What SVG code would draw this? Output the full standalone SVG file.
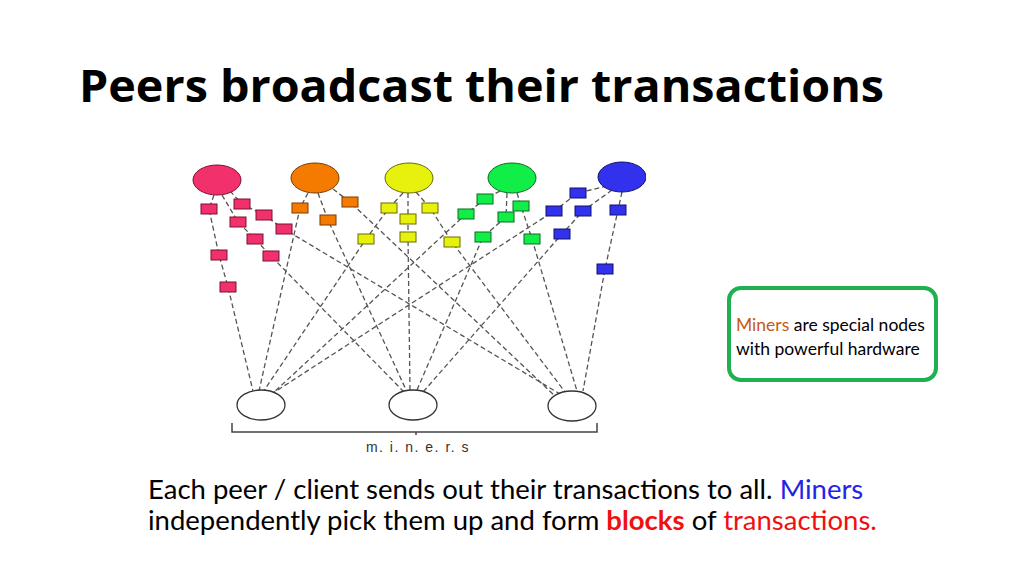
<svg xmlns="http://www.w3.org/2000/svg" width="1024" height="575" viewBox="0 0 1024 575">
<style>
.ln{stroke:#555;stroke-width:1.3;stroke-dasharray:5 3;fill:none}
.br{stroke:#444;stroke-width:1.5;fill:none}
.pk{fill:#f2306c;stroke:#7a1030;stroke-width:1}
.or{fill:#f57a00;stroke:#7a3a00;stroke-width:1}
.ye{fill:#e6f20c;stroke:#6a6a00;stroke-width:1}
.gr{fill:#12ee48;stroke:#0a6a20;stroke-width:1}
.bl{fill:#3232ee;stroke:#10106a;stroke-width:1}
.mn{fill:#fff;stroke:#333;stroke-width:1.3}
.t{font-family:Lato,"Liberation Sans",sans-serif}
</style>
<rect width="1024" height="575" fill="#fff"/>
<text x="79" y="102" font-family="'Open Sans','Noto Sans',sans-serif" font-weight="bold" font-size="45" textLength="805" lengthAdjust="spacingAndGlyphs" fill="#000">Peers broadcast their transactions</text>
<g id="connectors">
<polyline class="ln" points="214,195 209,209 219,255 228,287 253,391"/>
<polyline class="ln" points="222,195 238,222 255,239 271,256 404,392"/>
<polyline class="ln" points="230,191 242,204 264,215 284,229 560,394"/>
<polyline class="ln" points="308,193 300,208 259,391"/>
<polyline class="ln" points="318,193 328,220 407,392"/>
<polyline class="ln" points="333,189 350,202 555,396"/>
<polyline class="ln" points="403,193 389,208 366,239 263,392"/>
<polyline class="ln" points="408,193 408,219 408,237 410,390"/>
<polyline class="ln" points="416,192 430,208 452,242 565,392"/>
<polyline class="ln" points="500,191 485,199 466,214 271,395"/>
<polyline class="ln" points="507,193 506,217 483,237 417,390"/>
<polyline class="ln" points="517,193 521,206 532,239 577,391"/>
<polyline class="ln" points="607,186 578,193 554,211 267,397"/>
<polyline class="ln" points="612,190 583,211 562,234 423,392"/>
<polyline class="ln" points="622,192 618,210 605,269 583,391"/>
<polyline class="br" points="232,423 232,432 597,432 597,423"/>
<line class="br" x1="416" y1="432" x2="416" y2="435"/>
</g>
<g id="peer-pink">
<ellipse class="pk" cx="217" cy="180" rx="24" ry="15"/>
<rect class="pk" x="201" y="204" width="16" height="10"/><rect class="pk" x="211" y="250" width="16" height="10"/><rect class="pk" x="220" y="282" width="16" height="10"/>
<rect class="pk" x="230" y="217" width="16" height="10"/><rect class="pk" x="247" y="234" width="16" height="10"/><rect class="pk" x="263" y="251" width="16" height="10"/>
<rect class="pk" x="234" y="199" width="16" height="10"/><rect class="pk" x="256" y="210" width="16" height="10"/><rect class="pk" x="276" y="224" width="16" height="10"/>
</g>
<g id="peer-orange">
<ellipse class="or" cx="315" cy="178" rx="24" ry="15"/>
<rect class="or" x="292" y="203" width="16" height="10"/><rect class="or" x="320" y="215" width="16" height="10"/><rect class="or" x="342" y="197" width="16" height="10"/>
</g>
<g id="peer-yellow">
<ellipse class="ye" cx="409" cy="178" rx="24" ry="15"/>
<rect class="ye" x="381" y="203" width="16" height="10"/><rect class="ye" x="358" y="234" width="16" height="10"/>
<rect class="ye" x="400" y="214" width="16" height="10"/><rect class="ye" x="400" y="232" width="16" height="10"/>
<rect class="ye" x="422" y="203" width="16" height="10"/><rect class="ye" x="444" y="237" width="16" height="10"/>
</g>
<g id="peer-green">
<ellipse class="gr" cx="512" cy="178" rx="24" ry="15"/>
<rect class="gr" x="477" y="194" width="16" height="10"/><rect class="gr" x="458" y="209" width="16" height="10"/>
<rect class="gr" x="498" y="212" width="16" height="10"/><rect class="gr" x="475" y="232" width="16" height="10"/>
<rect class="gr" x="513" y="201" width="16" height="10"/><rect class="gr" x="524" y="234" width="16" height="10"/>
</g>
<g id="peer-blue">
<ellipse class="bl" cx="622" cy="177" rx="24" ry="15"/>
<rect class="bl" x="570" y="188" width="16" height="10"/><rect class="bl" x="546" y="206" width="16" height="10"/>
<rect class="bl" x="575" y="206" width="16" height="10"/><rect class="bl" x="554" y="229" width="16" height="10"/>
<rect class="bl" x="610" y="205" width="16" height="10"/><rect class="bl" x="597" y="264" width="16" height="10"/>
</g>
<rect x="646" y="160" width="20" height="40" fill="#fff"/>
<g id="miner-1"><ellipse class="mn" cx="261" cy="405" rx="24" ry="15"/></g>
<g id="miner-2"><ellipse class="mn" cx="413" cy="405" rx="24" ry="15"/></g>
<g id="miner-3"><ellipse class="mn" cx="572" cy="406" rx="24" ry="15"/></g>
<text x="418" y="452" text-anchor="middle" font-family="'Liberation Sans',sans-serif" font-size="14" fill="#333" letter-spacing="1.5">m. i. n. e. r. s</text>
<g id="note">
<rect x="729" y="288" width="207" height="92" rx="12" fill="#fff" stroke="#1fb050" stroke-width="4"/>
<text class="t" x="736" y="331" font-size="17.5" fill="#000"><tspan fill="#c55a11">Miners</tspan> are special nodes</text>
<text class="t" x="736" y="355" font-size="17.5" fill="#000">with powerful hardware</text>
</g>
<text class="t" x="148" y="499" font-size="27.5" fill="#000">Each peer / client sends out their transactions to all. <tspan fill="#2424e6">Miners</tspan></text>
<text class="t" x="148" y="530" font-size="27.5" fill="#000">independently pick them up and form <tspan fill="#f01010" font-weight="bold">blocks</tspan> of <tspan fill="#f01010">transactions.</tspan></text>
</svg>
